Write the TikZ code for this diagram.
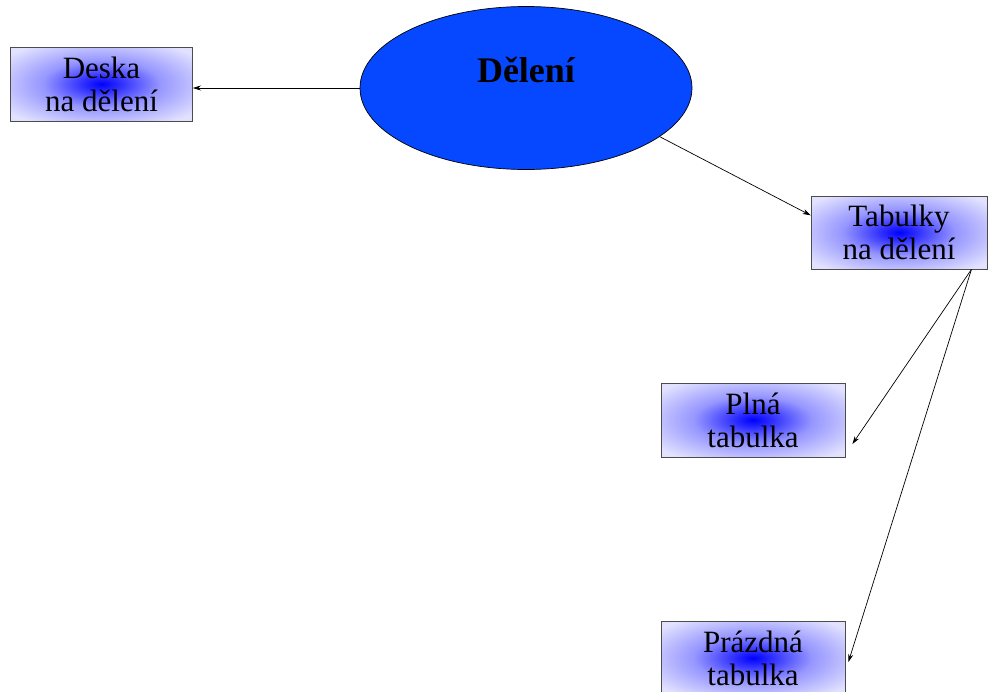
\documentclass[tikz,border=0pt]{standalone}
\usepackage{fontspec}
\setmainfont{Liberation Serif}
\usetikzlibrary{shapes.geometric,positioning,arrows.meta}

\definecolor{hubblue}{RGB}{5,72,255}
\definecolor{glowcore}{RGB}{0,0,255}
\definecolor{glowmid}{RGB}{150,150,255}
\definecolor{glowedge}{RGB}{226,226,255}
\pgfdeclareradialshading{boxglow}{\pgfpoint{0bp}{0bp}}{%
  color(0bp)=(glowcore); color(5bp)=(glowcore!70!glowmid);
  color(16bp)=(glowmid); color(32bp)=(glowedge); color(50bp)=(glowedge)}

\tikzset{
  hub/.style={ellipse,draw=black,fill=hubblue,minimum width=332pt,
    minimum height=163pt,inner sep=0pt},
  topic/.style={rectangle,draw=black!70,line width=0.8pt,shading=boxglow,
    minimum width=182pt,minimum height=74pt,inner sep=0pt,align=center,
    font=\fontsize{31}{33}\selectfont}
}

\begin{document}
\begin{tikzpicture}[x=1pt,y=-1pt,on grid,line width=0.7pt,>={Stealth[length=8pt,width=5pt]}]
\useasboundingbox (0,0) rectangle (988,691);
\node[hub] (dele) at (526,88) {};
\node[font=\fontsize{36}{40}\selectfont\bfseries] (deletitle) at ([yshift=18pt]dele.center) {Dělení};
\node[topic] (deska) [above left=4pt and 424.5pt of dele] {Deska\\na dělení};
\node[topic,minimum width=176pt,minimum height=73pt] (tab) [below right=144.5pt and 373pt of dele] {Tabulky\\na dělení};
\node[topic,minimum width=184pt] (plna) [below left=187.5pt and 146pt of tab] {Plná\\tabulka};
\node[topic,minimum width=184pt] (prazdna) [below=238pt of plna] {Prázdná\\tabulka};
\path[->]
	(dele.west) edge (dele.west -| deska.east)
	(dele.-20) edge (tab.169)
	(tab.-27) edge ([shift={(7,24)}]plna.east)
	          edge ([shift={(3,4)}]prazdna.east);
\end{tikzpicture}
\end{document}
